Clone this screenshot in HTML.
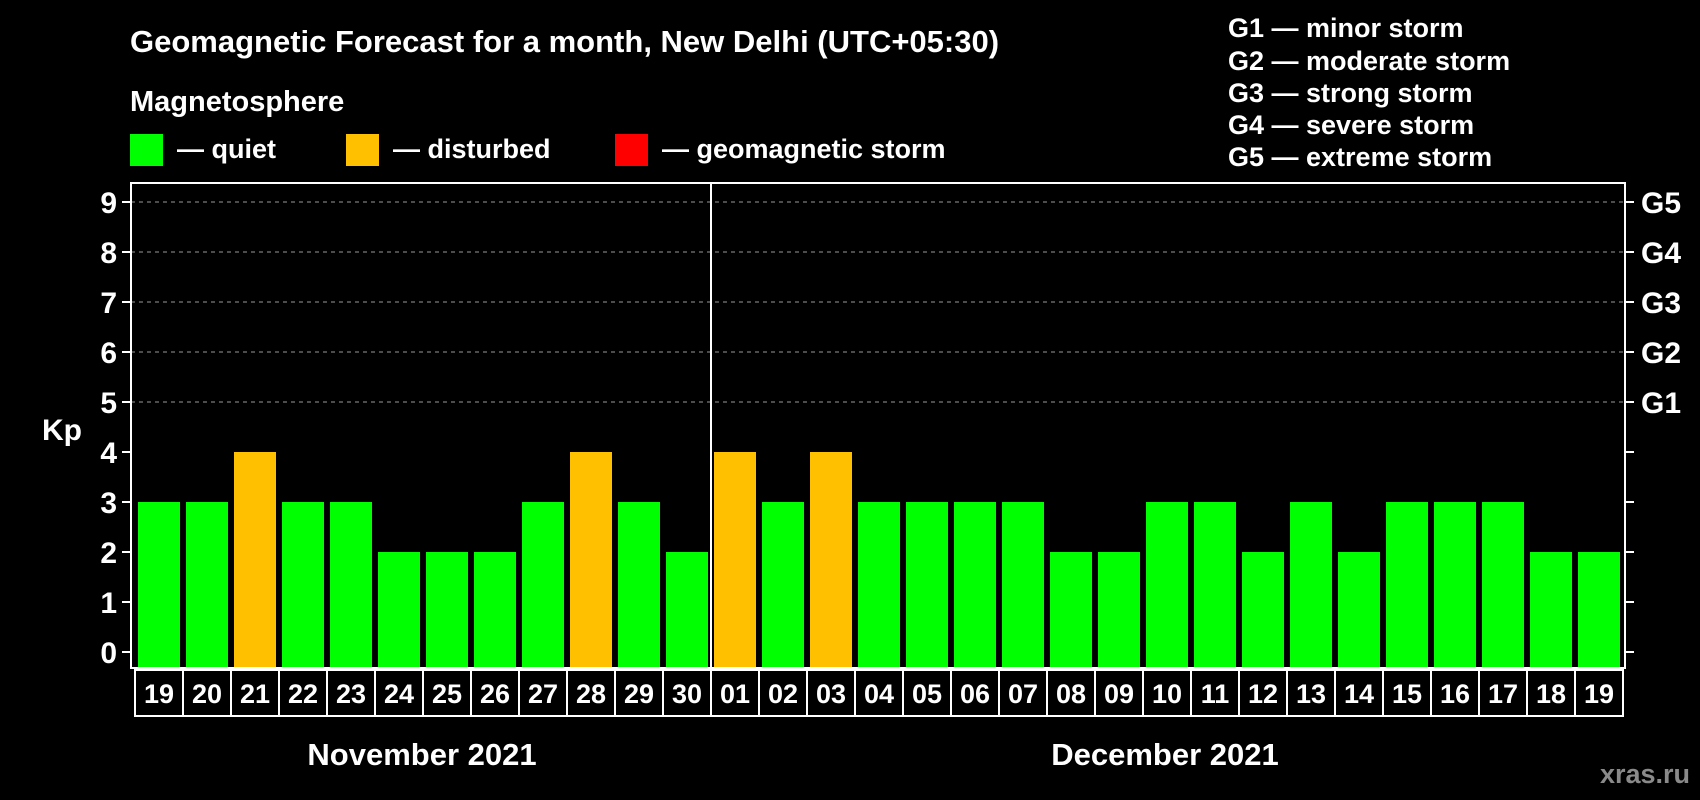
<!DOCTYPE html>
<html><head><meta charset="utf-8"><style>
body{margin:0;background:#000;}
svg{display:block;font-family:"Liberation Sans",Arial,sans-serif;font-weight:bold;}
</style></head><body>
<svg id="chart" width="1700" height="800" viewBox="0 0 1700 800" xmlns="http://www.w3.org/2000/svg">
<rect width="1700" height="800" fill="#000"/>
<text x="130" y="52" fill="#fff" font-size="31">Geomagnetic Forecast for a month, New Delhi (UTC+05:30)</text>
<text x="130" y="111" fill="#fff" font-size="29">Magnetosphere</text>
<rect x="130" y="134" width="33" height="32" fill="#00ff00"/>
<text x="177" y="158" fill="#fff" font-size="27">— quiet</text>
<rect x="346" y="134" width="33" height="32" fill="#ffc000"/>
<text x="393" y="158" fill="#fff" font-size="27">— disturbed</text>
<rect x="615" y="134" width="33" height="32" fill="#ff0000"/>
<text x="662" y="158" fill="#fff" font-size="27">— geomagnetic storm</text>
<g fill="#fff" font-size="27">
<text x="1228" y="37">G1 — minor storm</text>
<text x="1228" y="70">G2 — moderate storm</text>
<text x="1228" y="102">G3 — strong storm</text>
<text x="1228" y="134">G4 — severe storm</text>
<text x="1228" y="166">G5 — extreme storm</text>
</g>
<text x="42" y="440" fill="#fff" font-size="30">Kp</text>
<g id="grid"></g>
<g id="bars"></g>
<g id="axes"></g>
<text x="422" y="765" fill="#fff" font-size="31" text-anchor="middle">November 2021</text>
<text x="1165" y="765" fill="#fff" font-size="31" text-anchor="middle">December 2021</text>
<text x="1690" y="783" fill="#8a8a8a" font-size="27" text-anchor="end">xras.ru</text>
</svg>
<script>
const days=["19","20","21","22","23","24","25","26","27","28","29","30","01","02","03","04","05","06","07","08","09","10","11","12","13","14","15","16","17","18","19"];
const kpValues=[3,3,4,3,3,2,2,2,3,4,3,2,4,3,4,3,3,3,3,2,2,3,3,2,3,2,3,3,3,2,2];
const yTicks=[0,1,2,3,4,5,6,7,8,9];
const gLabels=["","","","","","G1","G2","G3","G4","G5"];
const NS="http://www.w3.org/2000/svg";
const L=131,R=1625,T=183,B=668,slot0=132,slotW=48,monthSplit=12;
const y=v=>652-v*50;
const x=i=>slot0+i*slotW;
function mk(tag,attrs,parent){const e=document.createElementNS(NS,tag);for(const k in attrs)e.setAttribute(k,attrs[k]);parent.appendChild(e);return e;}
const grid=document.getElementById('grid'),bars=document.getElementById('bars'),axes=document.getElementById('axes');
yTicks.forEach((t,i)=>{
  if(t>=5){const g=mk('line',{x1:L,x2:R,y1:y(t),y2:y(t),stroke:'#999','stroke-dasharray':'4 4','stroke-width':1},grid);
  
  }
  const tl=mk('line',{x1:122,x2:L,y1:y(t),y2:y(t),stroke:'#fff','stroke-width':2},axes);
  
  
  const tr=mk('line',{x1:R,x2:1634,y1:y(t),y2:y(t),stroke:'#fff','stroke-width':2},axes);
  
  
  const lb=mk('text',{x:117,y:y(t)+11,fill:'#fff','font-size':30,'text-anchor':'end'},axes);lb.textContent=t;
  
  
  if(gLabels[i]){const g=mk('text',{x:1641,y:y(t)+11,fill:'#fff','font-size':30},axes);g.textContent=gLabels[i];
  
  }
});
kpValues.forEach((v,i)=>{
  const c=v>=5?'#ff0000':(v>=4?'#ffc000':'#00ff00');
  const r=mk('rect',{x:x(i)+6,y:y(v),width:42,height:B-1-y(v),fill:c},bars);
  
  
  const bx=mk('rect',{x:x(i)+3,y:670,width:48,height:46,fill:'none',stroke:'#fff','stroke-width':2},axes);
  
  
  const d=mk('text',{x:x(i)+27,y:703,fill:'#fff','font-size':27,'text-anchor':'middle'},axes);d.textContent=days[i];
  
  
});
const fr=mk('rect',{x:L,y:T,width:R-L,height:B-T,fill:'none',stroke:'#fff','stroke-width':2},axes);


const sep=mk('line',{x1:x(monthSplit)+3,x2:x(monthSplit)+3,y1:T,y2:B,stroke:'#fff','stroke-width':2},axes);


</script>
</body></html>
